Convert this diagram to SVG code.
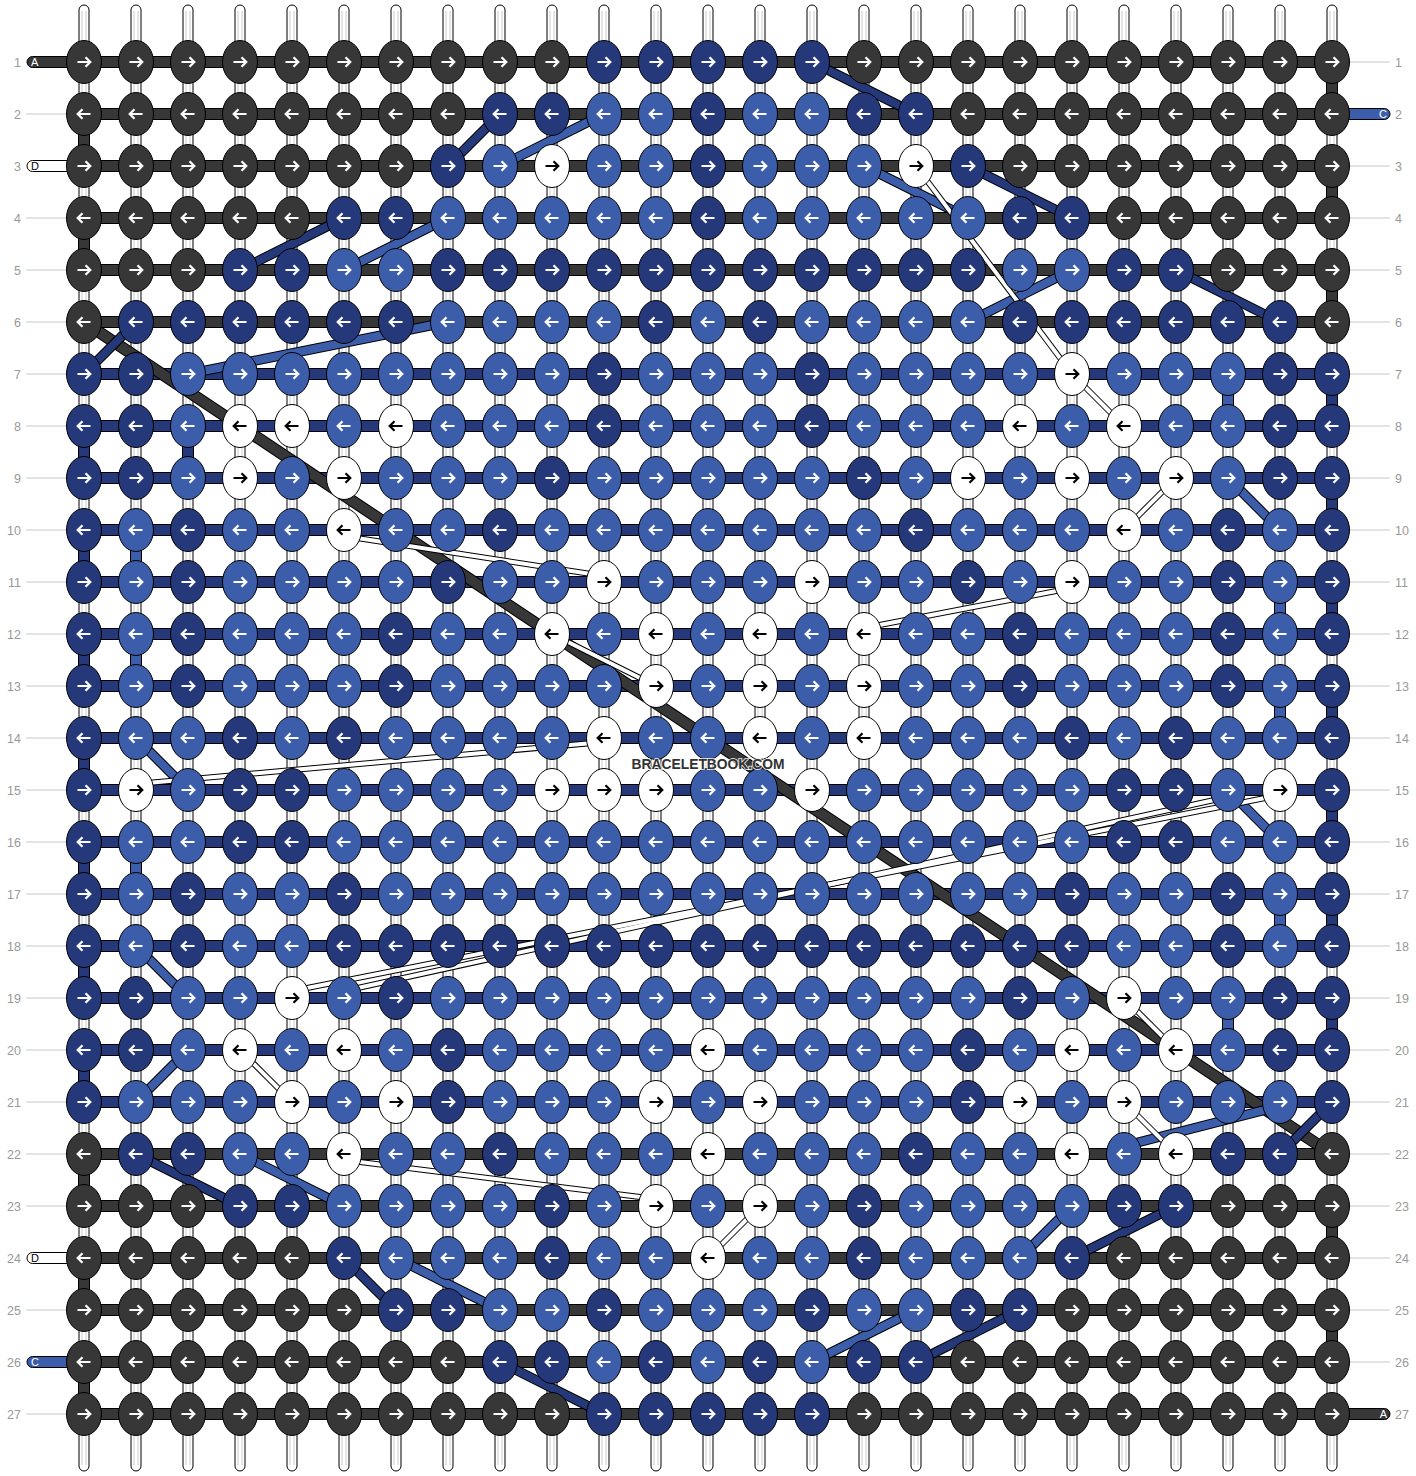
<svg xmlns="http://www.w3.org/2000/svg" xmlns:xlink="http://www.w3.org/1999/xlink" width="1416" height="1476" viewBox="0 0 1416 1476">
<style>
.hd{fill:#373737;stroke:#000;stroke-width:1}
.hn{fill:#25387a;stroke:#000;stroke-width:1}
.hb{fill:#3b5daa;stroke:#000;stroke-width:1}
.hw{fill:#fff;stroke:#000;stroke-width:1}
.o{fill:none;stroke:#000;stroke-width:10}
.od{fill:none;stroke:#000;stroke-width:12}
.ow{fill:none;stroke:#000;stroke-width:6}
.sd{fill:none;stroke:#373737;stroke-width:10}
.sn{fill:none;stroke:#25387a;stroke-width:8}
.sb{fill:none;stroke:#3b5daa;stroke-width:8}
.sw{fill:none;stroke:#fff;stroke-width:4}
.lbl{font-family:"Liberation Sans",Arial,sans-serif;font-size:12.5px;fill:#999}
.end{font-family:"Liberation Sans",Arial,sans-serif;font-size:11px}
</style>
<defs>
<g id="warp"><rect x="-5" y="5" width="10" height="1466" rx="5" fill="#fff" stroke="#000"/><path d="M-2 11V1465M2 11V1465" stroke="#ccc" stroke-width="1"/></g>
<path id="ar" d="M-6.5 0H5M1.5-4.8L6.3 0L1.5 4.8" fill="none" stroke-width="2.2"/>
<path id="al" d="M6.5 0H-5M-1.5-4.8L-6.3 0L-1.5 4.8" fill="none" stroke-width="2.2"/>
<g id="dr"><ellipse rx="17.5" ry="21.5" class="hd"/><use href="#ar" stroke="#fff"/></g>
<g id="dl"><ellipse rx="17.5" ry="21.5" class="hd"/><use href="#al" stroke="#fff"/></g>
<g id="nr"><ellipse rx="17.5" ry="21.5" class="hn"/><use href="#ar" stroke="#fff"/></g>
<g id="nl"><ellipse rx="17.5" ry="21.5" class="hn"/><use href="#al" stroke="#fff"/></g>
<g id="br"><ellipse rx="17.5" ry="21.5" class="hb"/><use href="#ar" stroke="#fff"/></g>
<g id="bl"><ellipse rx="17.5" ry="21.5" class="hb"/><use href="#al" stroke="#fff"/></g>
<g id="wr"><ellipse rx="17.5" ry="21.5" class="hw"/><use href="#ar" stroke="#000"/></g>
<g id="wl"><ellipse rx="17.5" ry="21.5" class="hw"/><use href="#al" stroke="#000"/></g>
</defs>
<rect width="1416" height="1476" fill="#fff"/>
<g id="labels">
<path d="M26 114H70M26 218H70M26 270H70M26 322H70M26 374H70M26 426H70M26 478H70M26 530H70M26 582H70M26 634H70M26 686H70M26 738H70M26 790H70M26 842H70M26 894H70M26 946H70M26 998H70M26 1050H70M26 1102H70M26 1154H70M26 1206H70M26 1310H70M26 1414H70" stroke="#c8c8c8" stroke-width="1"/>
<path d="M1340 62H1390M1340 166H1390M1340 218H1390M1340 270H1390M1340 322H1390M1340 374H1390M1340 426H1390M1340 478H1390M1340 530H1390M1340 582H1390M1340 634H1390M1340 686H1390M1340 738H1390M1340 790H1390M1340 842H1390M1340 894H1390M1340 946H1390M1340 998H1390M1340 1050H1390M1340 1102H1390M1340 1154H1390M1340 1206H1390M1340 1258H1390M1340 1310H1390M1340 1362H1390" stroke="#c8c8c8" stroke-width="1"/>
<g class="lbl" text-anchor="end">
<text x="21" y="66.5">1</text><text x="21" y="118.5">2</text><text x="21" y="170.5">3</text><text x="21" y="222.5">4</text><text x="21" y="274.5">5</text><text x="21" y="326.5">6</text><text x="21" y="378.5">7</text><text x="21" y="430.5">8</text><text x="21" y="482.5">9</text><text x="21" y="534.5">10</text><text x="21" y="586.5">11</text><text x="21" y="638.5">12</text><text x="21" y="690.5">13</text><text x="21" y="742.5">14</text><text x="21" y="794.5">15</text><text x="21" y="846.5">16</text><text x="21" y="898.5">17</text><text x="21" y="950.5">18</text><text x="21" y="1002.5">19</text><text x="21" y="1054.5">20</text><text x="21" y="1106.5">21</text><text x="21" y="1158.5">22</text><text x="21" y="1210.5">23</text><text x="21" y="1262.5">24</text><text x="21" y="1314.5">25</text><text x="21" y="1366.5">26</text><text x="21" y="1418.5">27</text>
</g>
<g class="lbl">
<text x="1395" y="66.5">1</text><text x="1395" y="118.5">2</text><text x="1395" y="170.5">3</text><text x="1395" y="222.5">4</text><text x="1395" y="274.5">5</text><text x="1395" y="326.5">6</text><text x="1395" y="378.5">7</text><text x="1395" y="430.5">8</text><text x="1395" y="482.5">9</text><text x="1395" y="534.5">10</text><text x="1395" y="586.5">11</text><text x="1395" y="638.5">12</text><text x="1395" y="690.5">13</text><text x="1395" y="742.5">14</text><text x="1395" y="794.5">15</text><text x="1395" y="846.5">16</text><text x="1395" y="898.5">17</text><text x="1395" y="950.5">18</text><text x="1395" y="1002.5">19</text><text x="1395" y="1054.5">20</text><text x="1395" y="1106.5">21</text><text x="1395" y="1158.5">22</text><text x="1395" y="1210.5">23</text><text x="1395" y="1262.5">24</text><text x="1395" y="1314.5">25</text><text x="1395" y="1366.5">26</text><text x="1395" y="1418.5">27</text>
</g>
</g>
<g id="warps">
<use href="#warp" x="84"/><use href="#warp" x="136"/><use href="#warp" x="188"/><use href="#warp" x="240"/><use href="#warp" x="292"/><use href="#warp" x="344"/><use href="#warp" x="396"/><use href="#warp" x="448"/><use href="#warp" x="500"/><use href="#warp" x="552"/><use href="#warp" x="604"/><use href="#warp" x="656"/><use href="#warp" x="708"/><use href="#warp" x="760"/><use href="#warp" x="812"/><use href="#warp" x="864"/><use href="#warp" x="916"/><use href="#warp" x="968"/><use href="#warp" x="1020"/><use href="#warp" x="1072"/><use href="#warp" x="1124"/><use href="#warp" x="1176"/><use href="#warp" x="1228"/><use href="#warp" x="1280"/><use href="#warp" x="1332"/>
</g>
<g id="turns">
<rect x="78.5" y="114" width="11" height="52" class="hd"/><rect x="78.5" y="218" width="11" height="52" class="hd"/><rect x="78.5" y="426" width="11" height="52" class="hn"/><rect x="78.5" y="530" width="11" height="52" class="hn"/><rect x="78.5" y="634" width="11" height="52" class="hn"/><rect x="78.5" y="738" width="11" height="52" class="hn"/><rect x="78.5" y="842" width="11" height="52" class="hn"/><rect x="78.5" y="946" width="11" height="52" class="hn"/><rect x="78.5" y="1050" width="11" height="52" class="hn"/><rect x="78.5" y="1154" width="11" height="52" class="hd"/><rect x="78.5" y="1258" width="11" height="52" class="hd"/><rect x="78.5" y="1362" width="11" height="52" class="hd"/>
<rect x="1326.5" y="62" width="11" height="52" class="hd"/><rect x="1326.5" y="166" width="11" height="52" class="hd"/><rect x="1326.5" y="270" width="11" height="52" class="hd"/><rect x="1326.5" y="374" width="11" height="52" class="hn"/><rect x="1326.5" y="478" width="11" height="52" class="hn"/><rect x="1326.5" y="582" width="11" height="52" class="hn"/><rect x="1326.5" y="686" width="11" height="52" class="hn"/><rect x="1326.5" y="790" width="11" height="52" class="hn"/><rect x="1326.5" y="894" width="11" height="52" class="hn"/><rect x="1326.5" y="998" width="11" height="52" class="hn"/><rect x="1326.5" y="1206" width="11" height="52" class="hd"/><rect x="1326.5" y="1310" width="11" height="52" class="hd"/>
<rect x="182.5" y="426" width="11" height="52" class="hn"/><rect x="130.5" y="530" width="11" height="52" class="hb"/><rect x="130.5" y="634" width="11" height="52" class="hb"/><rect x="130.5" y="842" width="11" height="52" class="hb"/><rect x="1222.5" y="374" width="11" height="52" class="hb"/><rect x="1222.5" y="998" width="11" height="52" class="hb"/><rect x="1274.5" y="582" width="11" height="52" class="hb"/><rect x="1274.5" y="686" width="11" height="52" class="hb"/><rect x="1274.5" y="894" width="11" height="52" class="hb"/>
</g>
<g id="rows">
<rect x="84" y="56.5" width="1248" height="11" class="hd"/><rect x="84" y="108.5" width="1248" height="11" class="hd"/><rect x="84" y="160.5" width="1248" height="11" class="hd"/><rect x="84" y="212.5" width="1248" height="11" class="hd"/><rect x="84" y="264.5" width="1248" height="11" class="hd"/><rect x="84" y="316.5" width="1248" height="11" class="hd"/>
<rect x="84" y="368.5" width="1248" height="11" class="hn"/><rect x="84" y="420.5" width="1248" height="11" class="hn"/><rect x="84" y="472.5" width="1248" height="11" class="hn"/><rect x="84" y="524.5" width="1248" height="11" class="hn"/><rect x="84" y="576.5" width="1248" height="11" class="hn"/><rect x="84" y="628.5" width="1248" height="11" class="hn"/><rect x="84" y="680.5" width="1248" height="11" class="hn"/><rect x="84" y="732.5" width="1248" height="11" class="hn"/><rect x="84" y="784.5" width="1248" height="11" class="hn"/><rect x="84" y="836.5" width="1248" height="11" class="hn"/><rect x="84" y="888.5" width="1248" height="11" class="hn"/><rect x="84" y="940.5" width="1248" height="11" class="hn"/><rect x="84" y="992.5" width="1248" height="11" class="hn"/><rect x="84" y="1044.5" width="1248" height="11" class="hn"/><rect x="84" y="1096.5" width="1248" height="11" class="hn"/>
<rect x="84" y="1148.5" width="1248" height="11" class="hd"/><rect x="84" y="1200.5" width="1248" height="11" class="hd"/><rect x="84" y="1252.5" width="1248" height="11" class="hd"/><rect x="84" y="1304.5" width="1248" height="11" class="hd"/><rect x="84" y="1356.5" width="1248" height="11" class="hd"/><rect x="84" y="1408.5" width="1248" height="11" class="hd"/>
</g>
<g id="ends">
<rect x="27" y="56.5" width="50" height="11" rx="5.5" class="hd"/><text x="31" y="66" class="end" fill="#fff">A</text>
<rect x="27" y="160.5" width="50" height="11" rx="5.5" class="hw"/><text x="31" y="170" class="end" fill="#000">D</text>
<rect x="27" y="1252.5" width="50" height="11" rx="5.5" class="hw"/><text x="31" y="1262" class="end" fill="#000">D</text>
<rect x="27" y="1356.5" width="50" height="11" rx="5.5" class="hb"/><text x="31" y="1366" class="end" fill="#fff">C</text>
<rect x="1320" y="108.5" width="70" height="11" rx="5.5" class="hb"/><text x="1387" y="118" class="end" fill="#fff" text-anchor="end">C</text>
<rect x="1320" y="1408.5" width="70" height="11" rx="5.5" class="hd"/><text x="1387" y="1418" class="end" fill="#fff" text-anchor="end">A</text>
</g>
<g id="connectors">
<path class="od" d="M84 322L1332 1154"/>
<path class="sd" d="M84 322L1332 1154"/>
<g class="o">
<path d="M448 166L500 114"/><path d="M812 62L916 114"/><path d="M240 270L344 218"/><path d="M84 374L136 322"/><path d="M968 166L1072 218"/><path d="M1176 270L1280 322"/><path d="M136 1154L240 1206"/><path d="M344 1258L396 1310"/><path d="M500 1362L604 1414"/><path d="M916 1362L1020 1310"/><path d="M1072 1258L1176 1206"/><path d="M1280 1154L1332 1102"/>
<path d="M500 166L604 114"/><path d="M344 270L448 218"/><path d="M188 374L448 322"/><path d="M864 166L968 218"/><path d="M968 322L1072 270"/><path d="M1228 478L1280 530"/><path d="M136 738L188 790"/><path d="M1228 790L1280 842"/><path d="M136 946L188 998"/><path d="M136 1102L188 1050"/><path d="M240 1154L344 1206"/><path d="M396 1258L500 1310"/><path d="M812 1362L916 1310"/><path d="M1020 1258L1072 1206"/><path d="M1124 1146L1280 1106"/>
</g>
<g class="sn">
<path d="M448 166L500 114"/><path d="M812 62L916 114"/><path d="M240 270L344 218"/><path d="M84 374L136 322"/><path d="M968 166L1072 218"/><path d="M1176 270L1280 322"/><path d="M136 1154L240 1206"/><path d="M344 1258L396 1310"/><path d="M500 1362L604 1414"/><path d="M916 1362L1020 1310"/><path d="M1072 1258L1176 1206"/><path d="M1280 1154L1332 1102"/>
</g>
<g class="sb">
<path d="M500 166L604 114"/><path d="M344 270L448 218"/><path d="M188 374L448 322"/><path d="M864 166L968 218"/><path d="M968 322L1072 270"/><path d="M1228 478L1280 530"/><path d="M136 738L188 790"/><path d="M1228 790L1280 842"/><path d="M136 946L188 998"/><path d="M136 1102L188 1050"/><path d="M240 1154L344 1206"/><path d="M396 1258L500 1310"/><path d="M812 1362L916 1310"/><path d="M1020 1258L1072 1206"/><path d="M1124 1146L1280 1106"/>
</g>
<g class="ow">
<path d="M916 166L1072 374"/><path d="M1072 374L1124 426"/><path d="M1176 478L1124 530"/><path d="M344 536L604 576"/><path d="M1072 588L864 628"/><path d="M552 634L656 686"/><path d="M136 784L604 742"/><path d="M292 991L1280 795"/><path d="M344 991L1228 797"/><path d="M240 1050L292 1102"/><path d="M344 1160L656 1199"/><path d="M760 1206L708 1258"/><path d="M1124 998L1176 1050"/><path d="M1124 1102L1176 1154"/>
</g>
<g class="sw">
<path d="M916 166L1072 374"/><path d="M1072 374L1124 426"/><path d="M1176 478L1124 530"/><path d="M344 536L604 576"/><path d="M1072 588L864 628"/><path d="M552 634L656 686"/><path d="M136 784L604 742"/><path d="M292 991L1280 795"/><path d="M344 991L1228 797"/><path d="M240 1050L292 1102"/><path d="M344 1160L656 1199"/><path d="M760 1206L708 1258"/><path d="M1124 998L1176 1050"/><path d="M1124 1102L1176 1154"/>
</g>
</g>
<g id="knots">
<g id="row1" transform="translate(0,62)"><use href="#dr" x="84"/><use href="#dr" x="136"/><use href="#dr" x="188"/><use href="#dr" x="240"/><use href="#dr" x="292"/><use href="#dr" x="344"/><use href="#dr" x="396"/><use href="#dr" x="448"/><use href="#dr" x="500"/><use href="#dr" x="552"/><use href="#nr" x="604"/><use href="#nr" x="656"/><use href="#nr" x="708"/><use href="#nr" x="760"/><use href="#nr" x="812"/><use href="#dr" x="864"/><use href="#dr" x="916"/><use href="#dr" x="968"/><use href="#dr" x="1020"/><use href="#dr" x="1072"/><use href="#dr" x="1124"/><use href="#dr" x="1176"/><use href="#dr" x="1228"/><use href="#dr" x="1280"/><use href="#dr" x="1332"/></g>
<g id="row2" transform="translate(0,114)"><use href="#dl" x="84"/><use href="#dl" x="136"/><use href="#dl" x="188"/><use href="#dl" x="240"/><use href="#dl" x="292"/><use href="#dl" x="344"/><use href="#dl" x="396"/><use href="#dl" x="448"/><use href="#nl" x="500"/><use href="#nl" x="552"/><use href="#bl" x="604"/><use href="#bl" x="656"/><use href="#nl" x="708"/><use href="#bl" x="760"/><use href="#bl" x="812"/><use href="#nl" x="864"/><use href="#nl" x="916"/><use href="#dl" x="968"/><use href="#dl" x="1020"/><use href="#dl" x="1072"/><use href="#dl" x="1124"/><use href="#dl" x="1176"/><use href="#dl" x="1228"/><use href="#dl" x="1280"/><use href="#dl" x="1332"/></g>
<g id="row3" transform="translate(0,166)"><use href="#dr" x="84"/><use href="#dr" x="136"/><use href="#dr" x="188"/><use href="#dr" x="240"/><use href="#dr" x="292"/><use href="#dr" x="344"/><use href="#dr" x="396"/><use href="#nr" x="448"/><use href="#br" x="500"/><use href="#wr" x="552"/><use href="#br" x="604"/><use href="#br" x="656"/><use href="#nr" x="708"/><use href="#br" x="760"/><use href="#br" x="812"/><use href="#br" x="864"/><use href="#wr" x="916"/><use href="#nr" x="968"/><use href="#dr" x="1020"/><use href="#dr" x="1072"/><use href="#dr" x="1124"/><use href="#dr" x="1176"/><use href="#dr" x="1228"/><use href="#dr" x="1280"/><use href="#dr" x="1332"/></g>
<g id="row4" transform="translate(0,218)"><use href="#dl" x="84"/><use href="#dl" x="136"/><use href="#dl" x="188"/><use href="#dl" x="240"/><use href="#dl" x="292"/><use href="#nl" x="344"/><use href="#nl" x="396"/><use href="#bl" x="448"/><use href="#bl" x="500"/><use href="#bl" x="552"/><use href="#bl" x="604"/><use href="#bl" x="656"/><use href="#nl" x="708"/><use href="#bl" x="760"/><use href="#bl" x="812"/><use href="#bl" x="864"/><use href="#bl" x="916"/><use href="#bl" x="968"/><use href="#nl" x="1020"/><use href="#nl" x="1072"/><use href="#dl" x="1124"/><use href="#dl" x="1176"/><use href="#dl" x="1228"/><use href="#dl" x="1280"/><use href="#dl" x="1332"/></g>
<g id="row5" transform="translate(0,270)"><use href="#dr" x="84"/><use href="#dr" x="136"/><use href="#dr" x="188"/><use href="#nr" x="240"/><use href="#nr" x="292"/><use href="#br" x="344"/><use href="#br" x="396"/><use href="#nr" x="448"/><use href="#nr" x="500"/><use href="#nr" x="552"/><use href="#nr" x="604"/><use href="#nr" x="656"/><use href="#nr" x="708"/><use href="#nr" x="760"/><use href="#nr" x="812"/><use href="#nr" x="864"/><use href="#nr" x="916"/><use href="#nr" x="968"/><use href="#br" x="1020"/><use href="#br" x="1072"/><use href="#nr" x="1124"/><use href="#nr" x="1176"/><use href="#dr" x="1228"/><use href="#dr" x="1280"/><use href="#dr" x="1332"/></g>
<g id="row6" transform="translate(0,322)"><use href="#dl" x="84"/><use href="#nl" x="136"/><use href="#nl" x="188"/><use href="#nl" x="240"/><use href="#nl" x="292"/><use href="#nl" x="344"/><use href="#nl" x="396"/><use href="#bl" x="448"/><use href="#bl" x="500"/><use href="#bl" x="552"/><use href="#bl" x="604"/><use href="#nl" x="656"/><use href="#bl" x="708"/><use href="#nl" x="760"/><use href="#bl" x="812"/><use href="#bl" x="864"/><use href="#bl" x="916"/><use href="#bl" x="968"/><use href="#nl" x="1020"/><use href="#nl" x="1072"/><use href="#nl" x="1124"/><use href="#nl" x="1176"/><use href="#nl" x="1228"/><use href="#nl" x="1280"/><use href="#dl" x="1332"/></g>
<g id="row7" transform="translate(0,374)"><use href="#nr" x="84"/><use href="#nr" x="136"/><use href="#br" x="188"/><use href="#br" x="240"/><use href="#br" x="292"/><use href="#br" x="344"/><use href="#br" x="396"/><use href="#br" x="448"/><use href="#br" x="500"/><use href="#br" x="552"/><use href="#nr" x="604"/><use href="#br" x="656"/><use href="#br" x="708"/><use href="#br" x="760"/><use href="#nr" x="812"/><use href="#br" x="864"/><use href="#br" x="916"/><use href="#br" x="968"/><use href="#br" x="1020"/><use href="#wr" x="1072"/><use href="#br" x="1124"/><use href="#br" x="1176"/><use href="#br" x="1228"/><use href="#nr" x="1280"/><use href="#nr" x="1332"/></g>
<g id="row8" transform="translate(0,426)"><use href="#nl" x="84"/><use href="#nl" x="136"/><use href="#bl" x="188"/><use href="#wl" x="240"/><use href="#wl" x="292"/><use href="#bl" x="344"/><use href="#wl" x="396"/><use href="#bl" x="448"/><use href="#bl" x="500"/><use href="#bl" x="552"/><use href="#nl" x="604"/><use href="#bl" x="656"/><use href="#bl" x="708"/><use href="#bl" x="760"/><use href="#nl" x="812"/><use href="#bl" x="864"/><use href="#bl" x="916"/><use href="#bl" x="968"/><use href="#wl" x="1020"/><use href="#bl" x="1072"/><use href="#wl" x="1124"/><use href="#bl" x="1176"/><use href="#bl" x="1228"/><use href="#nl" x="1280"/><use href="#nl" x="1332"/></g>
<g id="row9" transform="translate(0,478)"><use href="#nr" x="84"/><use href="#nr" x="136"/><use href="#br" x="188"/><use href="#wr" x="240"/><use href="#br" x="292"/><use href="#wr" x="344"/><use href="#br" x="396"/><use href="#br" x="448"/><use href="#br" x="500"/><use href="#nr" x="552"/><use href="#br" x="604"/><use href="#br" x="656"/><use href="#br" x="708"/><use href="#br" x="760"/><use href="#br" x="812"/><use href="#nr" x="864"/><use href="#br" x="916"/><use href="#wr" x="968"/><use href="#br" x="1020"/><use href="#wr" x="1072"/><use href="#br" x="1124"/><use href="#wr" x="1176"/><use href="#br" x="1228"/><use href="#nr" x="1280"/><use href="#nr" x="1332"/></g>
<g id="row10" transform="translate(0,530)"><use href="#nl" x="84"/><use href="#bl" x="136"/><use href="#nl" x="188"/><use href="#bl" x="240"/><use href="#bl" x="292"/><use href="#wl" x="344"/><use href="#bl" x="396"/><use href="#bl" x="448"/><use href="#nl" x="500"/><use href="#bl" x="552"/><use href="#bl" x="604"/><use href="#bl" x="656"/><use href="#bl" x="708"/><use href="#bl" x="760"/><use href="#bl" x="812"/><use href="#bl" x="864"/><use href="#nl" x="916"/><use href="#bl" x="968"/><use href="#bl" x="1020"/><use href="#bl" x="1072"/><use href="#wl" x="1124"/><use href="#bl" x="1176"/><use href="#nl" x="1228"/><use href="#bl" x="1280"/><use href="#nl" x="1332"/></g>
<g id="row11" transform="translate(0,582)"><use href="#nr" x="84"/><use href="#br" x="136"/><use href="#nr" x="188"/><use href="#br" x="240"/><use href="#br" x="292"/><use href="#br" x="344"/><use href="#br" x="396"/><use href="#nr" x="448"/><use href="#br" x="500"/><use href="#br" x="552"/><use href="#wr" x="604"/><use href="#br" x="656"/><use href="#br" x="708"/><use href="#br" x="760"/><use href="#wr" x="812"/><use href="#br" x="864"/><use href="#br" x="916"/><use href="#nr" x="968"/><use href="#br" x="1020"/><use href="#wr" x="1072"/><use href="#br" x="1124"/><use href="#br" x="1176"/><use href="#nr" x="1228"/><use href="#br" x="1280"/><use href="#nr" x="1332"/></g>
<g id="row12" transform="translate(0,634)"><use href="#nl" x="84"/><use href="#bl" x="136"/><use href="#nl" x="188"/><use href="#bl" x="240"/><use href="#bl" x="292"/><use href="#bl" x="344"/><use href="#nl" x="396"/><use href="#bl" x="448"/><use href="#bl" x="500"/><use href="#wl" x="552"/><use href="#bl" x="604"/><use href="#wl" x="656"/><use href="#bl" x="708"/><use href="#wl" x="760"/><use href="#bl" x="812"/><use href="#wl" x="864"/><use href="#bl" x="916"/><use href="#bl" x="968"/><use href="#nl" x="1020"/><use href="#bl" x="1072"/><use href="#bl" x="1124"/><use href="#bl" x="1176"/><use href="#nl" x="1228"/><use href="#bl" x="1280"/><use href="#nl" x="1332"/></g>
<g id="row13" transform="translate(0,686)"><use href="#nr" x="84"/><use href="#br" x="136"/><use href="#nr" x="188"/><use href="#br" x="240"/><use href="#br" x="292"/><use href="#br" x="344"/><use href="#nr" x="396"/><use href="#br" x="448"/><use href="#br" x="500"/><use href="#br" x="552"/><use href="#br" x="604"/><use href="#wr" x="656"/><use href="#br" x="708"/><use href="#wr" x="760"/><use href="#br" x="812"/><use href="#wr" x="864"/><use href="#br" x="916"/><use href="#br" x="968"/><use href="#nr" x="1020"/><use href="#br" x="1072"/><use href="#br" x="1124"/><use href="#br" x="1176"/><use href="#nr" x="1228"/><use href="#br" x="1280"/><use href="#nr" x="1332"/></g>
<g id="row14" transform="translate(0,738)"><use href="#nl" x="84"/><use href="#bl" x="136"/><use href="#bl" x="188"/><use href="#nl" x="240"/><use href="#bl" x="292"/><use href="#nl" x="344"/><use href="#bl" x="396"/><use href="#bl" x="448"/><use href="#bl" x="500"/><use href="#bl" x="552"/><use href="#wl" x="604"/><use href="#bl" x="656"/><use href="#bl" x="708"/><use href="#wl" x="760"/><use href="#bl" x="812"/><use href="#wl" x="864"/><use href="#bl" x="916"/><use href="#bl" x="968"/><use href="#bl" x="1020"/><use href="#nl" x="1072"/><use href="#bl" x="1124"/><use href="#nl" x="1176"/><use href="#bl" x="1228"/><use href="#bl" x="1280"/><use href="#nl" x="1332"/></g>
<g id="row15" transform="translate(0,790)"><use href="#nr" x="84"/><use href="#wr" x="136"/><use href="#br" x="188"/><use href="#nr" x="240"/><use href="#nr" x="292"/><use href="#br" x="344"/><use href="#br" x="396"/><use href="#br" x="448"/><use href="#br" x="500"/><use href="#wr" x="552"/><use href="#wr" x="604"/><use href="#wr" x="656"/><use href="#br" x="708"/><use href="#br" x="760"/><use href="#wr" x="812"/><use href="#br" x="864"/><use href="#br" x="916"/><use href="#br" x="968"/><use href="#br" x="1020"/><use href="#br" x="1072"/><use href="#nr" x="1124"/><use href="#nr" x="1176"/><use href="#br" x="1228"/><use href="#wr" x="1280"/><use href="#nr" x="1332"/></g>
<g id="row16" transform="translate(0,842)"><use href="#nl" x="84"/><use href="#bl" x="136"/><use href="#bl" x="188"/><use href="#nl" x="240"/><use href="#nl" x="292"/><use href="#bl" x="344"/><use href="#bl" x="396"/><use href="#bl" x="448"/><use href="#bl" x="500"/><use href="#bl" x="552"/><use href="#bl" x="604"/><use href="#bl" x="656"/><use href="#bl" x="708"/><use href="#bl" x="760"/><use href="#bl" x="812"/><use href="#bl" x="864"/><use href="#bl" x="916"/><use href="#bl" x="968"/><use href="#bl" x="1020"/><use href="#bl" x="1072"/><use href="#nl" x="1124"/><use href="#nl" x="1176"/><use href="#bl" x="1228"/><use href="#bl" x="1280"/><use href="#nl" x="1332"/></g>
<g id="row17" transform="translate(0,894)"><use href="#nr" x="84"/><use href="#br" x="136"/><use href="#nr" x="188"/><use href="#br" x="240"/><use href="#br" x="292"/><use href="#nr" x="344"/><use href="#br" x="396"/><use href="#br" x="448"/><use href="#br" x="500"/><use href="#br" x="552"/><use href="#br" x="604"/><use href="#br" x="656"/><use href="#br" x="708"/><use href="#br" x="760"/><use href="#br" x="812"/><use href="#br" x="864"/><use href="#br" x="916"/><use href="#br" x="968"/><use href="#br" x="1020"/><use href="#nr" x="1072"/><use href="#br" x="1124"/><use href="#br" x="1176"/><use href="#nr" x="1228"/><use href="#br" x="1280"/><use href="#nr" x="1332"/></g>
<g id="row18" transform="translate(0,946)"><use href="#nl" x="84"/><use href="#bl" x="136"/><use href="#nl" x="188"/><use href="#bl" x="240"/><use href="#bl" x="292"/><use href="#nl" x="344"/><use href="#nl" x="396"/><use href="#nl" x="448"/><use href="#nl" x="500"/><use href="#nl" x="552"/><use href="#nl" x="604"/><use href="#nl" x="656"/><use href="#nl" x="708"/><use href="#nl" x="760"/><use href="#nl" x="812"/><use href="#nl" x="864"/><use href="#nl" x="916"/><use href="#nl" x="968"/><use href="#nl" x="1020"/><use href="#nl" x="1072"/><use href="#bl" x="1124"/><use href="#bl" x="1176"/><use href="#nl" x="1228"/><use href="#bl" x="1280"/><use href="#nl" x="1332"/></g>
<g id="row19" transform="translate(0,998)"><use href="#nr" x="84"/><use href="#nr" x="136"/><use href="#br" x="188"/><use href="#br" x="240"/><use href="#wr" x="292"/><use href="#br" x="344"/><use href="#nr" x="396"/><use href="#br" x="448"/><use href="#br" x="500"/><use href="#br" x="552"/><use href="#br" x="604"/><use href="#br" x="656"/><use href="#br" x="708"/><use href="#br" x="760"/><use href="#br" x="812"/><use href="#br" x="864"/><use href="#br" x="916"/><use href="#br" x="968"/><use href="#nr" x="1020"/><use href="#br" x="1072"/><use href="#wr" x="1124"/><use href="#br" x="1176"/><use href="#br" x="1228"/><use href="#nr" x="1280"/><use href="#nr" x="1332"/></g>
<g id="row20" transform="translate(0,1050)"><use href="#nl" x="84"/><use href="#nl" x="136"/><use href="#bl" x="188"/><use href="#wl" x="240"/><use href="#bl" x="292"/><use href="#wl" x="344"/><use href="#bl" x="396"/><use href="#nl" x="448"/><use href="#bl" x="500"/><use href="#bl" x="552"/><use href="#bl" x="604"/><use href="#bl" x="656"/><use href="#wl" x="708"/><use href="#bl" x="760"/><use href="#bl" x="812"/><use href="#bl" x="864"/><use href="#bl" x="916"/><use href="#nl" x="968"/><use href="#bl" x="1020"/><use href="#wl" x="1072"/><use href="#bl" x="1124"/><use href="#wl" x="1176"/><use href="#bl" x="1228"/><use href="#nl" x="1280"/><use href="#nl" x="1332"/></g>
<g id="row21" transform="translate(0,1102)"><use href="#nr" x="84"/><use href="#br" x="136"/><use href="#br" x="188"/><use href="#br" x="240"/><use href="#wr" x="292"/><use href="#br" x="344"/><use href="#wr" x="396"/><use href="#nr" x="448"/><use href="#br" x="500"/><use href="#br" x="552"/><use href="#br" x="604"/><use href="#wr" x="656"/><use href="#br" x="708"/><use href="#wr" x="760"/><use href="#br" x="812"/><use href="#br" x="864"/><use href="#br" x="916"/><use href="#nr" x="968"/><use href="#wr" x="1020"/><use href="#br" x="1072"/><use href="#wr" x="1124"/><use href="#br" x="1176"/><use href="#br" x="1228"/><use href="#br" x="1280"/><use href="#nr" x="1332"/></g>
<g id="row22" transform="translate(0,1154)"><use href="#dl" x="84"/><use href="#nl" x="136"/><use href="#nl" x="188"/><use href="#bl" x="240"/><use href="#bl" x="292"/><use href="#wl" x="344"/><use href="#bl" x="396"/><use href="#bl" x="448"/><use href="#nl" x="500"/><use href="#bl" x="552"/><use href="#bl" x="604"/><use href="#bl" x="656"/><use href="#wl" x="708"/><use href="#bl" x="760"/><use href="#bl" x="812"/><use href="#bl" x="864"/><use href="#nl" x="916"/><use href="#bl" x="968"/><use href="#bl" x="1020"/><use href="#wl" x="1072"/><use href="#bl" x="1124"/><use href="#wl" x="1176"/><use href="#nl" x="1228"/><use href="#nl" x="1280"/><use href="#dl" x="1332"/></g>
<g id="row23" transform="translate(0,1206)"><use href="#dr" x="84"/><use href="#dr" x="136"/><use href="#dr" x="188"/><use href="#nr" x="240"/><use href="#nr" x="292"/><use href="#br" x="344"/><use href="#br" x="396"/><use href="#br" x="448"/><use href="#br" x="500"/><use href="#nr" x="552"/><use href="#br" x="604"/><use href="#wr" x="656"/><use href="#br" x="708"/><use href="#wr" x="760"/><use href="#br" x="812"/><use href="#nr" x="864"/><use href="#br" x="916"/><use href="#br" x="968"/><use href="#br" x="1020"/><use href="#br" x="1072"/><use href="#nr" x="1124"/><use href="#nr" x="1176"/><use href="#dr" x="1228"/><use href="#dr" x="1280"/><use href="#dr" x="1332"/></g>
<g id="row24" transform="translate(0,1258)"><use href="#dl" x="84"/><use href="#dl" x="136"/><use href="#dl" x="188"/><use href="#dl" x="240"/><use href="#dl" x="292"/><use href="#nl" x="344"/><use href="#bl" x="396"/><use href="#bl" x="448"/><use href="#bl" x="500"/><use href="#nl" x="552"/><use href="#bl" x="604"/><use href="#bl" x="656"/><use href="#wl" x="708"/><use href="#bl" x="760"/><use href="#bl" x="812"/><use href="#nl" x="864"/><use href="#bl" x="916"/><use href="#bl" x="968"/><use href="#bl" x="1020"/><use href="#nl" x="1072"/><use href="#dl" x="1124"/><use href="#dl" x="1176"/><use href="#dl" x="1228"/><use href="#dl" x="1280"/><use href="#dl" x="1332"/></g>
<g id="row25" transform="translate(0,1310)"><use href="#dr" x="84"/><use href="#dr" x="136"/><use href="#dr" x="188"/><use href="#dr" x="240"/><use href="#dr" x="292"/><use href="#dr" x="344"/><use href="#nr" x="396"/><use href="#nr" x="448"/><use href="#br" x="500"/><use href="#br" x="552"/><use href="#nr" x="604"/><use href="#br" x="656"/><use href="#br" x="708"/><use href="#br" x="760"/><use href="#nr" x="812"/><use href="#br" x="864"/><use href="#br" x="916"/><use href="#nr" x="968"/><use href="#nr" x="1020"/><use href="#dr" x="1072"/><use href="#dr" x="1124"/><use href="#dr" x="1176"/><use href="#dr" x="1228"/><use href="#dr" x="1280"/><use href="#dr" x="1332"/></g>
<g id="row26" transform="translate(0,1362)"><use href="#dl" x="84"/><use href="#dl" x="136"/><use href="#dl" x="188"/><use href="#dl" x="240"/><use href="#dl" x="292"/><use href="#dl" x="344"/><use href="#dl" x="396"/><use href="#dl" x="448"/><use href="#nl" x="500"/><use href="#nl" x="552"/><use href="#bl" x="604"/><use href="#nl" x="656"/><use href="#bl" x="708"/><use href="#nl" x="760"/><use href="#bl" x="812"/><use href="#nl" x="864"/><use href="#nl" x="916"/><use href="#dl" x="968"/><use href="#dl" x="1020"/><use href="#dl" x="1072"/><use href="#dl" x="1124"/><use href="#dl" x="1176"/><use href="#dl" x="1228"/><use href="#dl" x="1280"/><use href="#dl" x="1332"/></g>
<g id="row27" transform="translate(0,1414)"><use href="#dr" x="84"/><use href="#dr" x="136"/><use href="#dr" x="188"/><use href="#dr" x="240"/><use href="#dr" x="292"/><use href="#dr" x="344"/><use href="#dr" x="396"/><use href="#dr" x="448"/><use href="#dr" x="500"/><use href="#dr" x="552"/><use href="#nr" x="604"/><use href="#nr" x="656"/><use href="#nr" x="708"/><use href="#nr" x="760"/><use href="#nr" x="812"/><use href="#dr" x="864"/><use href="#dr" x="916"/><use href="#dr" x="968"/><use href="#dr" x="1020"/><use href="#dr" x="1072"/><use href="#dr" x="1124"/><use href="#dr" x="1176"/><use href="#dr" x="1228"/><use href="#dr" x="1280"/><use href="#dr" x="1332"/></g>
</g>
<text id="watermark" x="708" y="769" text-anchor="middle" font-family="'Liberation Sans',Arial,sans-serif" font-weight="bold" font-size="15" fill="#333" stroke="#fff" stroke-width="2" stroke-opacity="0.8" paint-order="stroke" textLength="153" lengthAdjust="spacingAndGlyphs">BRACELETBOOK.COM</text>
</svg>
